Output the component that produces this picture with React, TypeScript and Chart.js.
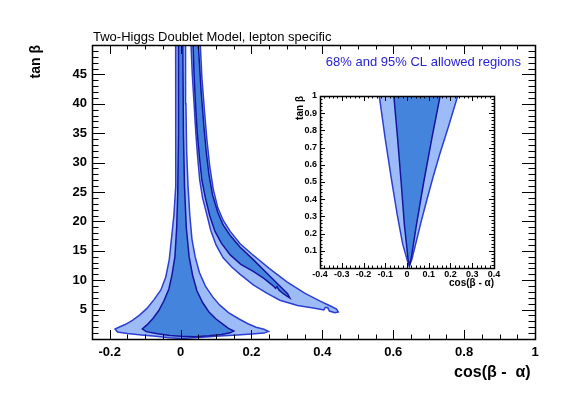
import React, { useEffect, useRef } from 'react';
import { Chart, registerables } from 'chart.js';
Chart.register(...registerables);

const FONT = "'Liberation Sans', Arial, Helvetica, sans-serif";

// ---------- texts ----------
const titleText = 'Two-Higgs Doublet Model, lepton specific';
const legendText = '68% and 95% CL allowed regions';
const xTitleMain = 'cos(\u03B2 -  \u03B1) ';
const yTitleMain = 'tan \u03B2';
const xTitleInset = 'cos(\u03B2 - \u03B1)';
const yTitleInset = 'tan \u03B2';

// ---------- axes ----------
const xRangeMain = [-0.25, 1];
const yRangeMain = [0, 50];
const xTicksMain = [-0.2, 0, 0.2, 0.4, 0.6, 0.8, 1];
const yTicksMain = [5, 10, 15, 20, 25, 30, 35, 40, 45];

const xRangeInset = [-0.4, 0.4];
const yRangeInset = [0, 1];
const xTicksInset = [-0.4, -0.3, -0.2, -0.1, 0, 0.1, 0.2, 0.3, 0.4];
const yTicksInset = [0.1, 0.2, 0.3, 0.4, 0.5, 0.6, 0.7, 0.8, 0.9, 1];

// ---------- contours (cos(beta-alpha), tan beta) ----------
const centralOuter95: [number, number][] = [
  [-0.014, 52], [-0.013, 40], [-0.013, 32], [-0.015, 26], [-0.019, 21], [-0.025, 17.5],
  [-0.032, 13.5], [-0.042, 10.5], [-0.056, 8.3], [-0.075, 6.7], [-0.095, 5.2], [-0.115, 4.1],
  [-0.135, 3.2], [-0.155, 2.5], [-0.174, 2.0], [-0.185, 1.7], [-0.178, 1.2], [-0.15, 0.95],
  [-0.11, 0.7], [-0.07, 0.45], [-0.03, 0.2], [0.0, 0.1], [0.05, 0.25], [0.11, 0.5],
  [0.16, 0.7], [0.2, 0.85], [0.235, 1.0], [0.248, 1.3], [0.235, 1.65], [0.213, 2.0],
  [0.19, 2.6], [0.165, 3.4], [0.135, 4.5], [0.11, 5.8], [0.09, 7.2], [0.07, 9.0],
  [0.053, 11.3], [0.041, 14], [0.032, 17], [0.026, 21], [0.021, 26], [0.017, 32],
  [0.015, 40], [0.014, 52],
];
const centralInner68: [number, number][] = [
  [-0.006, 52], [-0.006, 35], [-0.008, 25], [-0.011, 19], [-0.016, 14], [-0.024, 11],
  [-0.033, 8.5], [-0.047, 6.5], [-0.062, 4.8], [-0.078, 3.5], [-0.095, 2.4], [-0.108, 1.7],
  [-0.097, 1.25], [-0.065, 0.9], [-0.03, 0.6], [0.0, 0.45], [0.04, 0.4], [0.08, 0.55],
  [0.115, 0.75], [0.14, 1.05], [0.15, 1.35], [0.135, 1.8], [0.12, 2.5], [0.1, 3.4],
  [0.08, 4.6], [0.062, 6.2], [0.046, 8.2], [0.034, 10.8], [0.024, 14], [0.016, 19],
  [0.011, 26], [0.008, 35], [0.006, 52],
];
const branchOuter95: [number, number][] = [
  [0.028, 52], [0.033, 45], [0.038, 40], [0.043, 35], [0.048, 31], [0.054, 27],
  [0.062, 24], [0.073, 21.4], [0.085, 18.5], [0.1, 16], [0.12, 13.8], [0.145, 12.2],
  [0.168, 11.0], [0.205, 9.2], [0.243, 7.8], [0.28, 6.6], [0.33, 5.7], [0.37, 5.3],
  [0.398, 5.0], [0.404, 4.95], [0.408, 5.35], [0.415, 5.35], [0.42, 4.75], [0.435, 4.45],
  [0.445, 4.6], [0.44, 5.1], [0.42, 5.7], [0.395, 6.4], [0.35, 7.8], [0.3, 9.7],
  [0.25, 12.0], [0.2, 14.5], [0.168, 16.2], [0.14, 18.3], [0.12, 20.2], [0.105, 22.3],
  [0.092, 25.5], [0.082, 29.5], [0.074, 34], [0.067, 39], [0.06, 44.5], [0.054, 52],
];
const branchInner68: [number, number][] = [
  [0.034, 52], [0.038, 45], [0.042, 40], [0.047, 35], [0.053, 31], [0.06, 27],
  [0.07, 24], [0.082, 21], [0.097, 18.3], [0.115, 16.3], [0.14, 14.3], [0.17, 12.7],
  [0.205, 11.5], [0.235, 10.3], [0.262, 9.0], [0.268, 8.6], [0.272, 8.9], [0.278, 8.3],
  [0.29, 7.7], [0.3, 7.3], [0.308, 7.0], [0.302, 7.7], [0.28, 9.0], [0.25, 10.8],
  [0.205, 13.5], [0.168, 15.6], [0.14, 17.6], [0.12, 19.4], [0.105, 21.5], [0.09, 24.5],
  [0.08, 28], [0.072, 32], [0.066, 36], [0.058, 42], [0.048, 52],
];
const insetOuter95: [number, number][] = [
  [-0.133, 1.05], [-0.1, 0.75], [-0.072, 0.52], [-0.045, 0.31], [-0.02, 0.14], [0.0, 0.05],
  [0.01, 0.01], [0.022, 0.05], [0.04, 0.14], [0.065, 0.27], [0.092, 0.4], [0.118, 0.52],
  [0.15, 0.66], [0.19, 0.82], [0.245, 1.05],
];
const insetInner68: [number, number][] = [
  [-0.064, 1.05], [-0.043, 0.75], [-0.027, 0.5], [-0.012, 0.25], [0.005, 0.05], [0.012, 0.015],
  [0.02, 0.06], [0.042, 0.24], [0.077, 0.5], [0.115, 0.76], [0.16, 1.05],
];

// ---------- styles ----------
const LIGHT = '#9dbcf7';
const DARK = '#4584dc';
const OUTER_LINE = '#2b3fd3';
const INNER_LINE = '#15159f';

function poly(points: [number, number][], bg: string, border: string, width: number, order: number) {
  const data = points.map(([x, y]) => ({ x, y }));
  data.push({ x: points[0][0], y: points[0][1] });
  return {
    data,
    showLine: true,
    fill: 'shape',
    backgroundColor: bg,
    borderColor: border,
    borderWidth: width,
    pointRadius: 0,
    pointHoverRadius: 0,
    tension: 0,
    order,
  };
}

const fmt = (v: number) => String(Math.round(v * 1000) / 1000);

function near(v: number, step: number) {
  const r = v / step;
  return Math.abs(r - Math.round(r)) < 1e-6;
}

function frameTicksPlugin(o: {
  xMin: number; xMax: number; xMinor: number; xMajor: number; xLenMaj: number; xLenMin: number;
  yMin: number; yMax: number; yMinor: number; yMajor: number; yLenMaj: number; yLenMin: number;
  lw: number;
}) {
  return {
    id: 'frameTicks',
    afterDraw(chart: any) {
      const { ctx, chartArea: a, scales } = chart;
      const xs = scales.x, ys = scales.y;
      ctx.save();
      ctx.strokeStyle = '#000';
      ctx.lineWidth = 1;
      ctx.beginPath();
      const nx = Math.round((o.xMax - o.xMin) / o.xMinor);
      for (let i = 0; i <= nx; i++) {
        const v = o.xMin + i * o.xMinor;
        const len = near(v, o.xMajor) ? o.xLenMaj : o.xLenMin;
        const px = Math.round(xs.getPixelForValue(v)) + 0.5;
        ctx.moveTo(px, a.bottom); ctx.lineTo(px, a.bottom - len);
        ctx.moveTo(px, a.top); ctx.lineTo(px, a.top + len);
      }
      const ny = Math.round((o.yMax - o.yMin) / o.yMinor);
      for (let i = 0; i <= ny; i++) {
        const v = o.yMin + i * o.yMinor;
        const len = near(v, o.yMajor) ? o.yLenMaj : o.yLenMin;
        const py = Math.round(ys.getPixelForValue(v)) + 0.5;
        ctx.moveTo(a.left, py); ctx.lineTo(a.left + len, py);
        ctx.moveTo(a.right, py); ctx.lineTo(a.right - len, py);
      }
      ctx.stroke();
      ctx.lineWidth = o.lw;
      ctx.strokeRect(Math.round(a.left) + 0.5, Math.round(a.top) + 0.5,
        Math.round(a.right - a.left), Math.round(a.bottom - a.top));
      ctx.restore();
    },
  };
}

function mainConfig(): any {
  return {
    type: 'scatter',
    data: {
      datasets: [
        poly(centralOuter95, LIGHT, OUTER_LINE, 1.5, 2),
        poly(branchOuter95, LIGHT, OUTER_LINE, 1.5, 2),
        poly(centralInner68, DARK, INNER_LINE, 1.5, 1),
        poly(branchInner68, DARK, INNER_LINE, 1.5, 1),
      ],
    },
    options: {
      responsive: false,
      animation: false,
      events: [],
      layout: { padding: { left: 0, right: 28, top: 45, bottom: 0 } },
      plugins: { legend: { display: false }, tooltip: { enabled: false } },
      scales: {
        x: {
          type: 'linear', min: xRangeMain[0], max: xRangeMain[1],
          afterBuildTicks: (s: any) => { s.ticks = xTicksMain.map((value) => ({ value })); },
          afterFit: (s: any) => { s.height = 54; },
          grid: { display: false, drawTicks: false },
          border: { display: false },
          ticks: { color: '#000', padding: 6, autoSkip: false, maxRotation: 0, font: { family: FONT, size: 13, weight: 'bold' }, callback: (v: number) => fmt(v) },
          title: { display: true, text: xTitleMain, align: 'end', color: '#000', font: { family: FONT, size: 16, weight: 'bold' }, padding: { top: 0, bottom: 11 } },
        },
        y: {
          type: 'linear', min: yRangeMain[0], max: yRangeMain[1],
          afterBuildTicks: (s: any) => { s.ticks = yTicksMain.map((value) => ({ value })); },
          afterFit: (s: any) => { s.width = 92; },
          grid: { display: false, drawTicks: false },
          border: { display: false },
          ticks: { color: '#000', padding: 5, autoSkip: false, font: { family: FONT, size: 13, weight: 'bold' }, callback: (v: number) => fmt(v) },
          title: { display: true, text: yTitleMain, align: 'end', color: '#000', font: { family: FONT, size: 14, weight: 'bold' }, padding: { top: 28, bottom: 0 } },
        },
      },
    },
    plugins: [
      {
        id: 'bg',
        beforeDraw(chart: any) {
          const { ctx, width, height } = chart;
          ctx.save(); ctx.fillStyle = '#fff'; ctx.fillRect(0, 0, width, height); ctx.restore();
        },
      },
      frameTicksPlugin({
        xMin: -0.25, xMax: 1, xMinor: 0.05, xMajor: 0.2, xLenMaj: 9, xLenMin: 4.5,
        yMin: 0, yMax: 50, yMinor: 1, yMajor: 5, yLenMaj: 13, yLenMin: 6.5, lw: 1.5,
      }),
      {
        id: 'texts',
        afterDraw(chart: any) {
          const { ctx } = chart;
          ctx.save();
          ctx.font = `13px ${FONT}`;
          ctx.fillStyle = '#000';
          ctx.textAlign = 'left';
          ctx.textBaseline = 'alphabetic';
          ctx.fillText(titleText, 93, 41);
          ctx.fillStyle = '#2424d8';
          ctx.textAlign = 'right';
          ctx.fillText(legendText, 521, 66);
          ctx.restore();
        },
      },
    ],
  };
}

function insetConfig(): any {
  return {
    type: 'scatter',
    data: {
      datasets: [
        poly(insetOuter95, LIGHT, OUTER_LINE, 1.5, 2),
        poly(insetInner68, DARK, INNER_LINE, 1.5, 1),
      ],
    },
    options: {
      responsive: false,
      animation: false,
      events: [],
      layout: { padding: { left: 0, right: 11, top: 10, bottom: 0 } },
      plugins: { legend: { display: false }, tooltip: { enabled: false } },
      scales: {
        x: {
          type: 'linear', min: xRangeInset[0], max: xRangeInset[1],
          afterBuildTicks: (s: any) => { s.ticks = xTicksInset.map((value) => ({ value })); },
          afterFit: (s: any) => { s.height = 23; },
          grid: { display: false, drawTicks: false },
          border: { display: false },
          ticks: { color: '#000', padding: 1, autoSkip: false, maxRotation: 0, font: { family: FONT, size: 9, weight: 'bold' }, callback: (v: number) => fmt(v) },
          title: { display: true, text: xTitleInset, align: 'end', color: '#000', font: { family: FONT, size: 10, weight: 'bold' }, padding: { top: 0, bottom: 2 } },
        },
        y: {
          type: 'linear', min: yRangeInset[0], max: yRangeInset[1],
          afterBuildTicks: (s: any) => { s.ticks = yTicksInset.map((value) => ({ value })); },
          afterFit: (s: any) => { s.width = 30; },
          grid: { display: false, drawTicks: false },
          border: { display: false },
          ticks: { color: '#000', padding: 3, autoSkip: false, font: { family: FONT, size: 9, weight: 'bold' }, callback: (v: number) => fmt(v) },
          title: { display: true, text: yTitleInset, align: 'end', color: '#000', font: { family: FONT, size: 10, weight: 'bold' }, padding: { top: 4, bottom: 0 } },
        },
      },
    },
    plugins: [
      {
        id: 'insetBg',
        beforeDraw(chart: any) {
          const { ctx, chartArea: a } = chart;
          ctx.save(); ctx.fillStyle = '#fff';
          ctx.fillRect(a.left, a.top, a.right - a.left, a.bottom - a.top);
          ctx.restore();
        },
      },
      frameTicksPlugin({
        xMin: -0.4, xMax: 0.4, xMinor: 0.02, xMajor: 0.1, xLenMaj: 5, xLenMin: 2.5,
        yMin: 0, yMax: 1, yMinor: 0.02, yMajor: 0.1, yLenMaj: 5, yLenMin: 2.5, lw: 1.5,
      }),
    ],
  };
}

export default function App() {
  const mainRef = useRef<HTMLCanvasElement>(null);
  const insetRef = useRef<HTMLCanvasElement>(null);
  useEffect(() => {
    const c1 = new Chart(mainRef.current as HTMLCanvasElement, mainConfig());
    const c2 = new Chart(insetRef.current as HTMLCanvasElement, insetConfig());
    return () => { c1.destroy(); c2.destroy(); };
  }, []);
  return (
    <div style={{ position: 'absolute', left: 0, top: 0, width: 563, height: 393, background: '#fff', overflow: 'hidden' }}>
      <canvas ref={mainRef} width={563} height={393} style={{ position: 'absolute', left: 0, top: 0, width: 563, height: 393 }} />
      <canvas ref={insetRef} width={215} height={205} style={{ position: 'absolute', left: 290, top: 86, width: 215, height: 205 }} />
    </div>
  );
}
